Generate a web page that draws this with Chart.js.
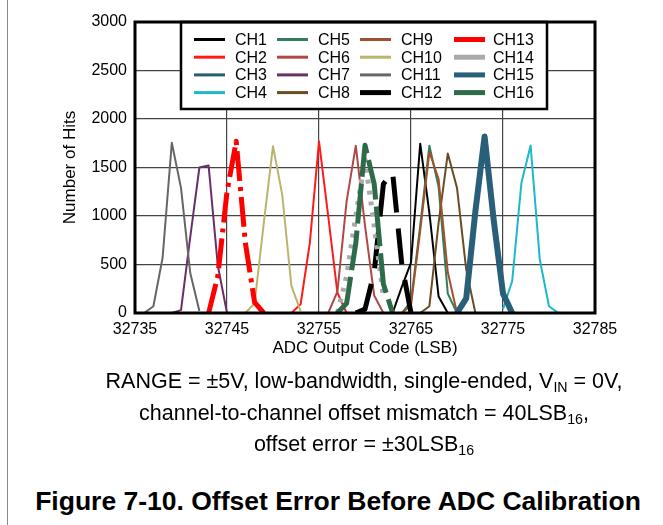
<!DOCTYPE html>
<html><head><meta charset="utf-8">
<script src="https://cdn.jsdelivr.net/npm/chart.js@4"></script>
<style>
html,body{margin:0;padding:0;background:#fff;}
#wrap{position:relative;width:663px;height:525px;overflow:hidden;font-family:"Liberation Sans",Arial,sans-serif;color:#000;}
#c{position:absolute;left:0;top:0;}
#edge{position:absolute;left:7px;top:0;width:0;height:525px;border-left:1.5px solid #8a8a8a;}
.cap{position:absolute;left:0;width:728px;text-align:center;font-size:21.5px;line-height:32px;height:32px;white-space:nowrap;}
.cap sub{font-size:0.66em;vertical-align:-0.3em;line-height:0;}
#title{position:absolute;left:0;width:676px;top:485px;text-align:center;font-weight:bold;font-size:26.5px;line-height:32px;white-space:nowrap;}
</style></head>
<body>
<div id="wrap">
<div id="edge"></div>
<canvas id="c" width="663" height="370"></canvas>
<div class="cap" style="top:365px">RANGE = ±5V, low-bandwidth, single-ended, V<sub>IN</sub> = 0V,</div>
<div class="cap" style="top:397px">channel-to-channel offset mismatch = 40LSB<sub>16</sub>,</div>
<div class="cap" style="top:428px">offset error = ±30LSB<sub>16</sub></div>
<div id="title">Figure 7-10. Offset Error Before ADC Calibration</div>
</div>
<script>
// ---- data ----
const X_TICKS = [32735, 32745, 32755, 32765, 32775, 32785];
const Y_TICKS = [0, 500, 1000, 1500, 2000, 2500, 3000];

const CH1_CODES = [32763, 32764, 32765, 32766, 32767, 32768, 32769];
const CH1_HITS  = [0, 270, 520, 1745, 1030, 170, 0];
const CH2_CODES = [32752, 32753, 32754, 32755, 32756, 32757, 32758];
const CH2_HITS  = [0, 90, 720, 1770, 1000, 210, 0];
const CH3_CODES = [32770, 32771, 32772, 32773, 32774, 32775, 32776];
const CH3_HITS  = [0, 120, 1000, 1780, 900, 180, 0];
const CH4_CODES = [32775, 32776, 32777, 32778, 32779, 32780, 32781];
const CH4_HITS  = [40, 330, 1340, 1727, 550, 70, 0];
const CH5_CODES = [32764, 32765, 32766, 32767, 32768, 32769, 32770];
const CH5_HITS  = [0, 120, 900, 1725, 1300, 200, 0];
const CH6_CODES = [32756, 32757, 32758, 32759, 32760, 32761, 32762];
const CH6_HITS  = [0, 220, 1150, 1725, 900, 180, 0];
const CH7_CODES = [32739, 32740, 32741, 32742, 32743, 32744, 32745];
const CH7_HITS  = [0, 30, 780, 1500, 1520, 490, 0];
const CH8_CODES = [32766, 32767, 32768, 32769, 32770, 32771, 32772];
const CH8_HITS  = [0, 70, 930, 1645, 1290, 450, 0];
const CH9_CODES = [32764, 32765, 32766, 32767, 32768, 32769, 32770];
const CH9_HITS  = [0, 80, 850, 1660, 1380, 420, 0];
const CH10_CODES = [32747, 32748, 32749, 32750, 32751, 32752, 32753];
const CH10_HITS  = [0, 100, 930, 1720, 1220, 280, 20];
const CH11_CODES = [32736, 32737, 32738, 32739, 32740, 32741, 32742];
const CH11_HITS  = [0, 70, 570, 1755, 1290, 415, 20];
const CH12_CODES = [32759, 32760, 32761, 32762, 32763, 32764, 32765];
const CH12_HITS  = [0, 40, 420, 1330, 1450, 500, 0];
const CH13_CODES = [32743, 32744, 32745, 32746, 32747, 32748, 32749];
const CH13_HITS  = [0, 380, 1250, 1770, 720, 110, 0];
const CH14_CODES = [32757, 32758, 32759, 32760, 32761, 32762];
const CH14_HITS  = [0, 380, 1000, 1580, 900, 170];
const CH15_CODES = [32770, 32771, 32772, 32773, 32774, 32775, 32776];
const CH15_HITS  = [0, 150, 1050, 1820, 950, 200, 0];
const CH16_CODES = [32757, 32758, 32759, 32760, 32761, 32762, 32763];
const CH16_HITS  = [0, 100, 720, 1730, 1330, 300, 0];

const SERIES_NAMES = ['CH1','CH2','CH3','CH4','CH5','CH6','CH7','CH8','CH9','CH10','CH11','CH12','CH13','CH14','CH15','CH16'];
const SERIES_CODES = [CH1_CODES,CH2_CODES,CH3_CODES,CH4_CODES,CH5_CODES,CH6_CODES,CH7_CODES,CH8_CODES,CH9_CODES,CH10_CODES,CH11_CODES,CH12_CODES,CH13_CODES,CH14_CODES,CH15_CODES,CH16_CODES];
const SERIES_HITS  = [CH1_HITS,CH2_HITS,CH3_HITS,CH4_HITS,CH5_HITS,CH6_HITS,CH7_HITS,CH8_HITS,CH9_HITS,CH10_HITS,CH11_HITS,CH12_HITS,CH13_HITS,CH14_HITS,CH15_HITS,CH16_HITS];

// ---- styles ----
const COLORS = ['#000000','#ff1a1a','#255e6e','#1cb8cc','#317d5c','#b04848','#6a2e68','#6b4c23','#a0522d','#bab56c','#666666','#000000','#ff0000','#aaaaaa','#2a5f7a','#2e6b4a'];
const WIDTHS = [2,2,2,2,2,2,2,2,2,2,2,5,5,5,6,5];
const DASHES = [[],[],[],[],[],[],[],[],[],[],[],[36,16],[30,6,4,6],[4,7],[],[40,7]];
const FAMILY = '"Liberation Sans", Arial, sans-serif';
const FONT = {family: FAMILY, size: 16};
const TITLE_FONT = {family: FAMILY, size: 17};

const datasets = SERIES_NAMES.map((name, i) => ({
  label: name,
  data: SERIES_CODES[i].map((c, j) => ({x: c, y: SERIES_HITS[i][j]})),
  borderColor: COLORS[i],
  backgroundColor: COLORS[i],
  borderWidth: WIDTHS[i],
  borderDash: DASHES[i],
  borderJoinStyle: 'round',
  pointRadius: 0,
  tension: 0,
  fill: false,
  order: SERIES_NAMES.length - i
}));

const LEG_COL_X = [59, 142, 225, 319];   // offsets from plot left
const LEG_TEXT_DX = [41, 41, 41, 39];

const decorPlugin = {
  id: 'decor',
  afterDatasetsDraw(chart) {
    const {ctx, chartArea: a} = chart;
    ctx.save();
    // legend box
    const lx = a.left + 46, ly = a.top, lw = 366, lh = 87;
    ctx.fillStyle = '#fff';
    ctx.fillRect(lx, ly, lw, lh);
    ctx.strokeStyle = '#000';
    ctx.lineWidth = 2.5;
    ctx.strokeRect(lx, ly, lw, lh);
    ctx.font = FONT.size + 'px ' + FONT.family;
    ctx.textBaseline = 'middle';
    ctx.textAlign = 'left';
    chart.data.datasets.forEach((ds, i) => {
      const col = Math.floor(i / 4), row = i % 4;
      const x0 = a.left + LEG_COL_X[col];
      const y = a.top + 17.5 + row * 17.7;
      ctx.beginPath();
      ctx.setLineDash([]);
      ctx.lineCap = 'butt';
      ctx.strokeStyle = ds.borderColor;
      ctx.lineWidth = ds.borderWidth > 2 ? 5 : 3;
      ctx.moveTo(x0, y);
      ctx.lineTo(x0 + 31, y);
      ctx.stroke();
      ctx.fillStyle = '#000';
      ctx.fillText(ds.label, x0 + LEG_TEXT_DX[col], y + 1);
    });
    // plot frame
    ctx.strokeStyle = '#000';
    ctx.lineWidth = 3;
    ctx.strokeRect(a.left, a.top, a.right - a.left, a.bottom - a.top);
    ctx.restore();
  }
};

new Chart(document.getElementById('c'), {
  type: 'line',
  data: {datasets},
  options: {
    responsive: false,
    devicePixelRatio: 1,
    animation: false,
    layout: {padding: {top: 22, right: 68, left: 0, bottom: 0}},
    plugins: {legend: {display: false}, tooltip: {enabled: false}},
    scales: {
      x: {
        type: 'linear', min: X_TICKS[0], max: X_TICKS[X_TICKS.length - 1],
        afterBuildTicks: s => { s.ticks = X_TICKS.map(v => ({value: v})); },
        afterFit: s => { s.height = 57; },
        ticks: {font: FONT, color: '#000', padding: 7, maxRotation: 0, callback: v => String(v)},
        grid: {color: '#444', lineWidth: 1.2, drawTicks: false},
        border: {display: false},
        title: {display: true, text: 'ADC Output Code (LSB)', font: TITLE_FONT, color: '#000', padding: {top: 0, bottom: 11}}
      },
      y: {
        min: Y_TICKS[0], max: Y_TICKS[Y_TICKS.length - 1],
        afterBuildTicks: s => { s.ticks = Y_TICKS.map(v => ({value: v})); },
        afterFit: s => { s.width = 135; },
        ticks: {font: FONT, color: '#000', padding: 8, callback: v => String(v)},
        grid: {color: '#444', lineWidth: 1.2, drawTicks: false},
        border: {display: false},
        title: {display: true, text: 'Number of Hits', font: TITLE_FONT, color: '#000', padding: {top: 60, bottom: 0}}
      }
    }
  },
  plugins: [decorPlugin]
});
</script>
</body></html>
